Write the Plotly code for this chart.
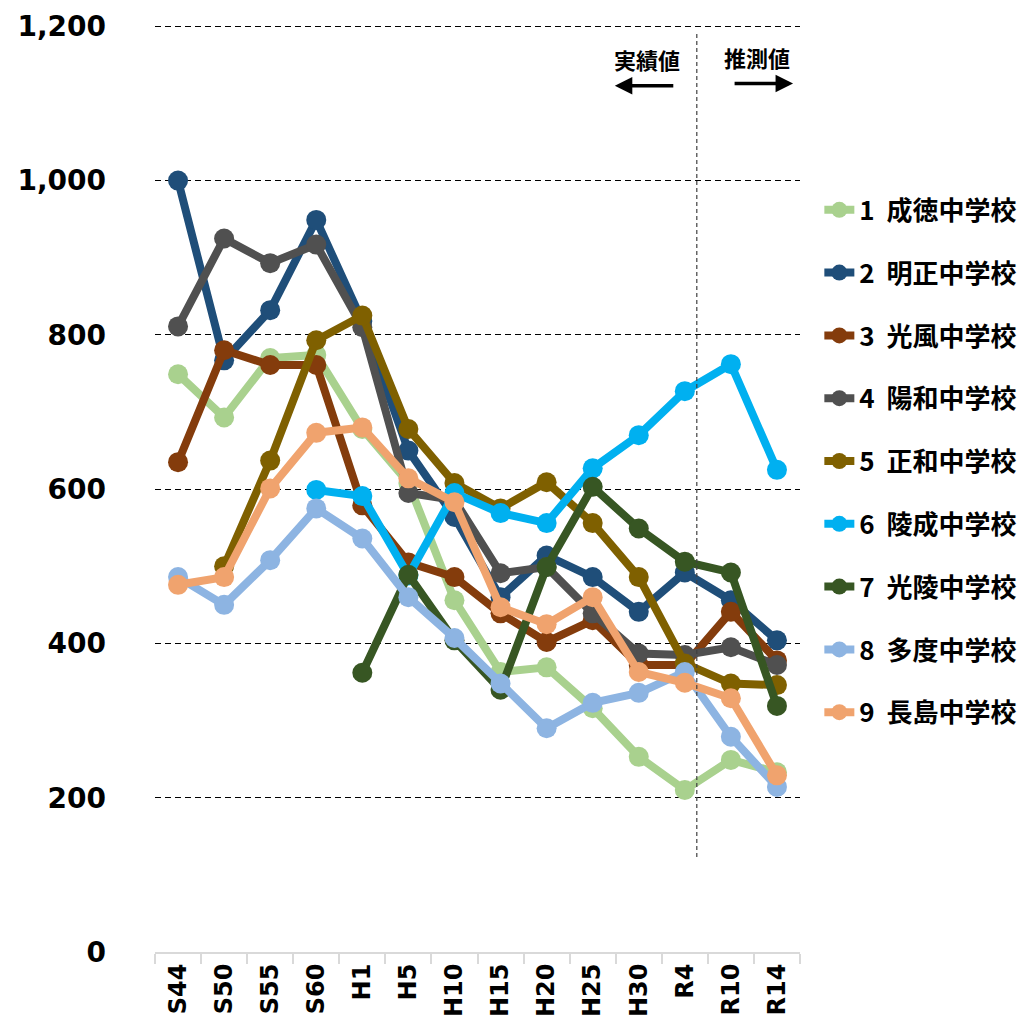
import plotly.graph_objects as go

categories = ["S44", "S50", "S55", "S60", "H1", "H5", "H10", "H15", "H20", "H25", "H30", "R4", "R10", "R14"]

names = ["1  成徳中学校", "2  明正中学校", "3  光風中学校", "4  陽和中学校", "5  正和中学校",
         "6  陵成中学校", "7  光陵中学校", "8  多度中学校", "9  長島中学校"]
colors = ["#a9d18e", "#1f4e79", "#843c0c", "#505050", "#7f6000",
          "#00b0f0", "#375623", "#8db4e2", "#f0a36e"]

s1 = [749, 693, 770, 774, 678, 608, 456, 363, 369, 316, 253, 210, 249, 233]
s2 = [1000, 767, 832, 949, 818, 650, 564, 460, 514, 486, 441, 492, 456, 404]
s3 = [635, 780, 761, 761, 579, 505, 486, 439, 402, 430, 372, 372, 441, 378]
s4 = [811, 925, 893, 917, 810, 595, 586, 491, 499, 439, 387, 385, 395, 372]
s5 = [None, 500, 637, 793, 825, 678, 608, 575, 609, 556, 486, 374, 348, 346]
s6 = [None, None, None, 599, 591, 488, 595, 569, 556, 627, 670, 727, 762, 625]
s7 = [None, None, None, None, 362, 489, 404, 340, 499, 603, 549, 506, 492, 319]
s8 = [486, 450, 508, 575, 536, 460, 407, 348, 290, 323, 336, 363, 279, 214]
s9 = [476, 486, 601, 673, 680, 614, 583, 447, 425, 460, 363, 349, 329, 229]
series = [s1, s2, s3, s4, s5, s6, s7, s8, s9]

y_ticks = [0, 200, 400, 600, 800, 1000, 1200]

fig = go.Figure()
for i, (nm, col, vals) in enumerate(zip(names, colors, series)):
    fig.add_trace(go.Scatter(
        x=categories, y=vals, name=nm, mode="lines+markers",
        line=dict(color=col, width=8),
        marker=dict(color=col, size=20),
        legendgroup=f"g{i}",
        connectgaps=False,
    ))

fig.update_layout(
    width=1020, height=1023,
    margin=dict(l=147, r=228, t=16, b=79, autoexpand=False),
    plot_bgcolor="white", paper_bgcolor="white",
    showlegend=True,
    legend=dict(
        x=1.03, y=0.825, xanchor="left", yanchor="top",
        font=dict(family="Noto Sans CJK JP", size=26, color="black", weight="bold"),
        tracegroupgap=26,
        bgcolor="rgba(0,0,0,0)",
    ),
    font=dict(family="DejaVu Sans", color="black"),
)

fig.update_yaxes(
    range=[0, 1203], tickvals=y_ticks, tickformat=",",
    showgrid=True, gridcolor="black", gridwidth=1.3, griddash="6px,4px",
    zeroline=False, showline=False, ticks="", automargin=False,
    tickfont=dict(family="DejaVu Sans", size=28, color="black", weight="bold"),
    ticklabelstandoff=48,
)
fig.update_xaxes(
    type="category", range=[-0.5, 13.5], automargin=False,
    showgrid=False, showline=True, linecolor="#d9d9d9", linewidth=2,
    ticks="outside", tickson="boundaries", ticklen=10, tickcolor="#d9d9d9", tickwidth=2,
    tickangle=-90,
    tickfont=dict(family="DejaVu Sans", size=24, color="black", weight="bold"),
)

# divider between actual and projected values
fig.add_shape(type="line", xref="x", yref="y", x0=11.26, x1=11.26, y0=1190, y1=123,
              line=dict(color="#404040", width=1.2, dash="4px,3px"))

fig.add_annotation(text="実績値", xref="x", yref="y", x=10.18, y=1158, showarrow=False,
                   font=dict(family="Noto Sans CJK JP", size=22, color="black", weight="bold"))
fig.add_annotation(text="推測値", xref="x", yref="y", x=12.57, y=1160, showarrow=False,
                   font=dict(family="Noto Sans CJK JP", size=22, color="black", weight="bold"))
fig.add_annotation(xref="x", yref="y", x=9.48, y=1123, ax=60, ay=0, text="",
                   showarrow=True, arrowhead=2, arrowsize=1, arrowwidth=3.5, arrowcolor="black")
fig.add_annotation(xref="x", yref="y", x=13.35, y=1126, ax=-60, ay=0, text="",
                   showarrow=True, arrowhead=2, arrowsize=1, arrowwidth=3.5, arrowcolor="black")

fig.write_html("out.html")
